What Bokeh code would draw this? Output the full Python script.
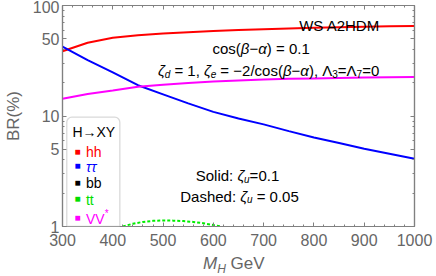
from bokeh.plotting import figure
from bokeh.models import (FixedTicker, LinearAxis, LogAxis, Label, BoxAnnotation, Range1d,
                          BasicTickFormatter, CustomJSTickFormatter, Div)
from bokeh.layouts import column
from bokeh.embed import file_html
from bokeh.resources import INLINE

# ---------------- data ----------------
mh = [300, 350, 400, 450, 500, 550, 600, 650, 700, 750, 800, 850, 900, 950, 1000]
br_hh = [38.5, 46.0, 51.0, 53.8, 55.8, 57.4, 58.8, 60.0, 61.0, 62.0, 62.8, 63.5, 64.2, 64.8, 65.3]
br_tautau = [42.5, 32.0, 24.8, 19.0, 15.7, 13.0, 10.9, 9.5, 8.4, 7.3, 6.4, 5.7, 5.05, 4.55, 4.1]
br_vv = [14.3, 15.8, 17.0, 18.4, 19.2, 19.9, 20.5, 21.0, 21.4, 21.7, 21.9, 22.1, 22.3, 22.4, 22.5]
mh_tt = [420, 440, 460, 480, 500, 520, 540, 560, 580, 600, 615]
br_tt = [1.0, 1.06, 1.10, 1.125, 1.135, 1.13, 1.12, 1.10, 1.07, 1.03, 1.0]

x_ticks = [300, 400, 500, 600, 700, 800, 900, 1000]
x_minor = [v for v in range(300, 1001, 20) if v % 100 != 0]
y_ticks = [1, 5, 10, 50, 100]
y_minor = [2, 3, 4, 6, 7, 8, 9, 20, 30, 40, 60, 70, 80, 90]
y_tick_labels = ["1", "5", "10", "50", "100"]

legend_names = ["hh", "ττ", "bb", "tt", "VV"]
legend_colors = ["#ff0000", "#0000ff", "#000000", "#00dd00", "#ff00ff"]

FONT = "Liberation Sans"
GRAY = "#808080"
LBL = "#666666"

p = figure(width=436, height=252, x_range=Range1d(300, 1000), y_range=Range1d(1, 100),
           y_axis_type="log", output_backend="svg", toolbar_location=None,
           min_border_left=58, min_border_right=22, min_border_top=5, min_border_bottom=26)
p.xgrid.grid_line_color = None
p.ygrid.grid_line_color = None
p.outline_line_color = GRAY
p.outline_line_width = 1.2
p.background_fill_color = "white"

xt = FixedTicker(ticks=x_ticks, minor_ticks=x_minor)
yt = FixedTicker(ticks=y_ticks, minor_ticks=y_minor)


def style(ax, show=True):
    ax.axis_line_color = GRAY
    ax.axis_line_width = 1.2
    ax.major_tick_in = 4
    ax.major_tick_out = 0
    ax.minor_tick_in = 2
    ax.minor_tick_out = 0
    ax.major_tick_line_color = GRAY
    ax.minor_tick_line_color = GRAY
    ax.major_label_text_font = FONT
    ax.major_label_text_color = LBL
    if show:
        ax.major_label_text_font_size = "16px"
    else:
        ax.formatter = CustomJSTickFormatter(code="return ''")
        ax.major_label_text_font_size = "1px"
        ax.major_label_standoff = 0


xa = p.below[0]
ya = p.left[0]
xa.ticker = xt
ya.ticker = yt
ya.formatter = BasicTickFormatter()
ya.major_label_overrides = {t: s for t, s in zip(y_ticks, y_tick_labels)}
style(xa)
style(ya)
xa.major_label_standoff = 7
ya.major_label_standoff = 3
ya.axis_label = "BR(%)"
ya.axis_label_text_font = FONT
ya.axis_label_text_font_size = "17px"
ya.axis_label_text_font_style = "normal"
ya.axis_label_text_color = LBL
ya.axis_label_standoff = 7

ra = LogAxis(ticker=yt)
style(ra, False)
p.add_layout(ra, "right")
ta = LinearAxis(ticker=xt)
style(ta, False)
p.add_layout(ta, "above")

# ---------------- curves ----------------
p.line(mh, br_hh, line_color="#ff0000", line_width=2)
p.line(mh, br_tautau, line_color="#0000ff", line_width=2)
p.line(mh, br_vv, line_color="#ff00ff", line_width=2)
p.line(mh_tt, br_tt, line_color="#00ee00", line_width=2, line_dash="3 2")

# ---------------- rich text helper ----------------
W = {' ': 278, '(': 333, ')': 333, '*': 389, ',': 278, '-': 333, '.': 278, '/': 278, ':': 278, '=': 584,
     'A': 667, 'D': 722, 'G': 778, 'H': 722, 'M': 833, 'S': 667, 'V': 667, 'W': 944, 'X': 667, 'Y': 667,
     'a': 556, 'b': 556, 'c': 500, 'd': 556, 'e': 556, 'h': 556, 'i': 222, 'l': 222, 'o': 556, 's': 500,
     't': 278, 'u': 556, 'v': 500, '−': 584, 'α': 578, 'β': 575, 'ζ': 441, 'Λ': 667, 'τ': 395, '→': 1000}


def tw(s, size):
    return sum(W.get(c, 556) for c in s) * size / 1000.0


def rich(x, y, segs, size=15, color="black"):
    sub_size = round(size * 0.7)
    parts = []
    total = 0.0
    for seg in segs:
        txt, st = seg[0], seg[1]
        sub = len(seg) > 2 and seg[2]
        fs = sub_size if sub else size
        lead = len(txt) - len(txt.lstrip(" "))
        parts.append((txt.strip(" "), st, sub, fs, total + tw(" " * lead, fs)))
        total += tw(txt, fs)
    start = -total / 2
    for txt, st, sub, fs, off in parts:
        p.add_layout(Label(x=x, y=y, x_offset=start + off, y_offset=-3.5 if sub else 0,
                           text=txt, text_font=FONT, text_font_size=f"{fs}px",
                           text_font_style="italic" if st == "i" else "normal",
                           text_color=color, text_align="left", text_baseline="alphabetic"))


rich(851, 65.9, [("WS A2HDM", "n")])
rich(695, 40.8, [("cos(", "n"), ("β", "i"), ("−", "n"), ("α", "i"), (") = 0.1", "n")])
rich(710, 25.8, [("ζ", "i"), ("d", "i", True), (" = 1, ", "n"), ("ζ", "i"), ("e", "i", True),
                 (" = −2/cos(", "n"), ("β", "i"), ("−", "n"), ("α", "i"), ("), ", "n"),
                 ("Λ", "n"), ("3", "n", True), ("=", "n"), ("Λ", "n"), ("7", "n", True), ("=0", "n")])
rich(648, 2.89, [("Solid: ", "n"), ("ζ", "i"), ("u", "i", True), ("=0.1", "n")])
rich(652, 1.88, [("Dashed: ", "n"), ("ζ", "i"), ("u", "i", True), (" = 0.05", "n")])

# ---------------- legend ----------------
p.add_layout(BoxAnnotation(left=308.5, right=414, top=9.75, bottom=1, fill_color="white", fill_alpha=1,
                           line_color=GRAY, line_width=1.3, border_radius=(5, 5, 0, 0)))
p.add_layout(Label(x=319.7, y=7.13, text="H→XY", text_font=FONT, text_font_size="14px",
                   text_color="black", text_baseline="alphabetic"))
leg_y = [4.70, 3.49, 2.47, 1.744, 1.174]
for name, col, yy in zip(legend_names, legend_colors, leg_y):
    p.add_layout(Label(x=330.1, y=yy, text="■", text_font=FONT, text_font_size="10px", text_color=col,
                       text_align="center", text_baseline="alphabetic", y_offset=1))
    p.add_layout(Label(x=346.7, y=yy, text=name, text_font=FONT, text_font_size="14px", text_color=col,
                       text_font_style="italic" if name == "ττ" else "normal", text_baseline="alphabetic"))
    if name == "VV":
        p.add_layout(Label(x=346.7, y=yy, x_offset=tw("VV", 14), y_offset=5, text="*", text_font=FONT,
                           text_font_size="10px", text_color=col, text_baseline="alphabetic"))

# ---------------- x axis title (below the figure) ----------------
xtitle = Div(text='<span style="font-style:italic">M</span>'
                  '<span style="font-style:italic;font-size:12px;position:relative;top:4px">H</span>'
                  '<span> GeV</span>',
             width=436, height=24, margin=(0, 0, 0, 0),
             styles={"font-family": FONT, "font-size": "17px", "color": LBL, "line-height": "20px",
                     "padding-left": "203px", "padding-top": "2px", "white-space": "nowrap"})

layout = column(p, xtitle, spacing=0)
open("out.html", "w").write(file_html(layout, INLINE))
